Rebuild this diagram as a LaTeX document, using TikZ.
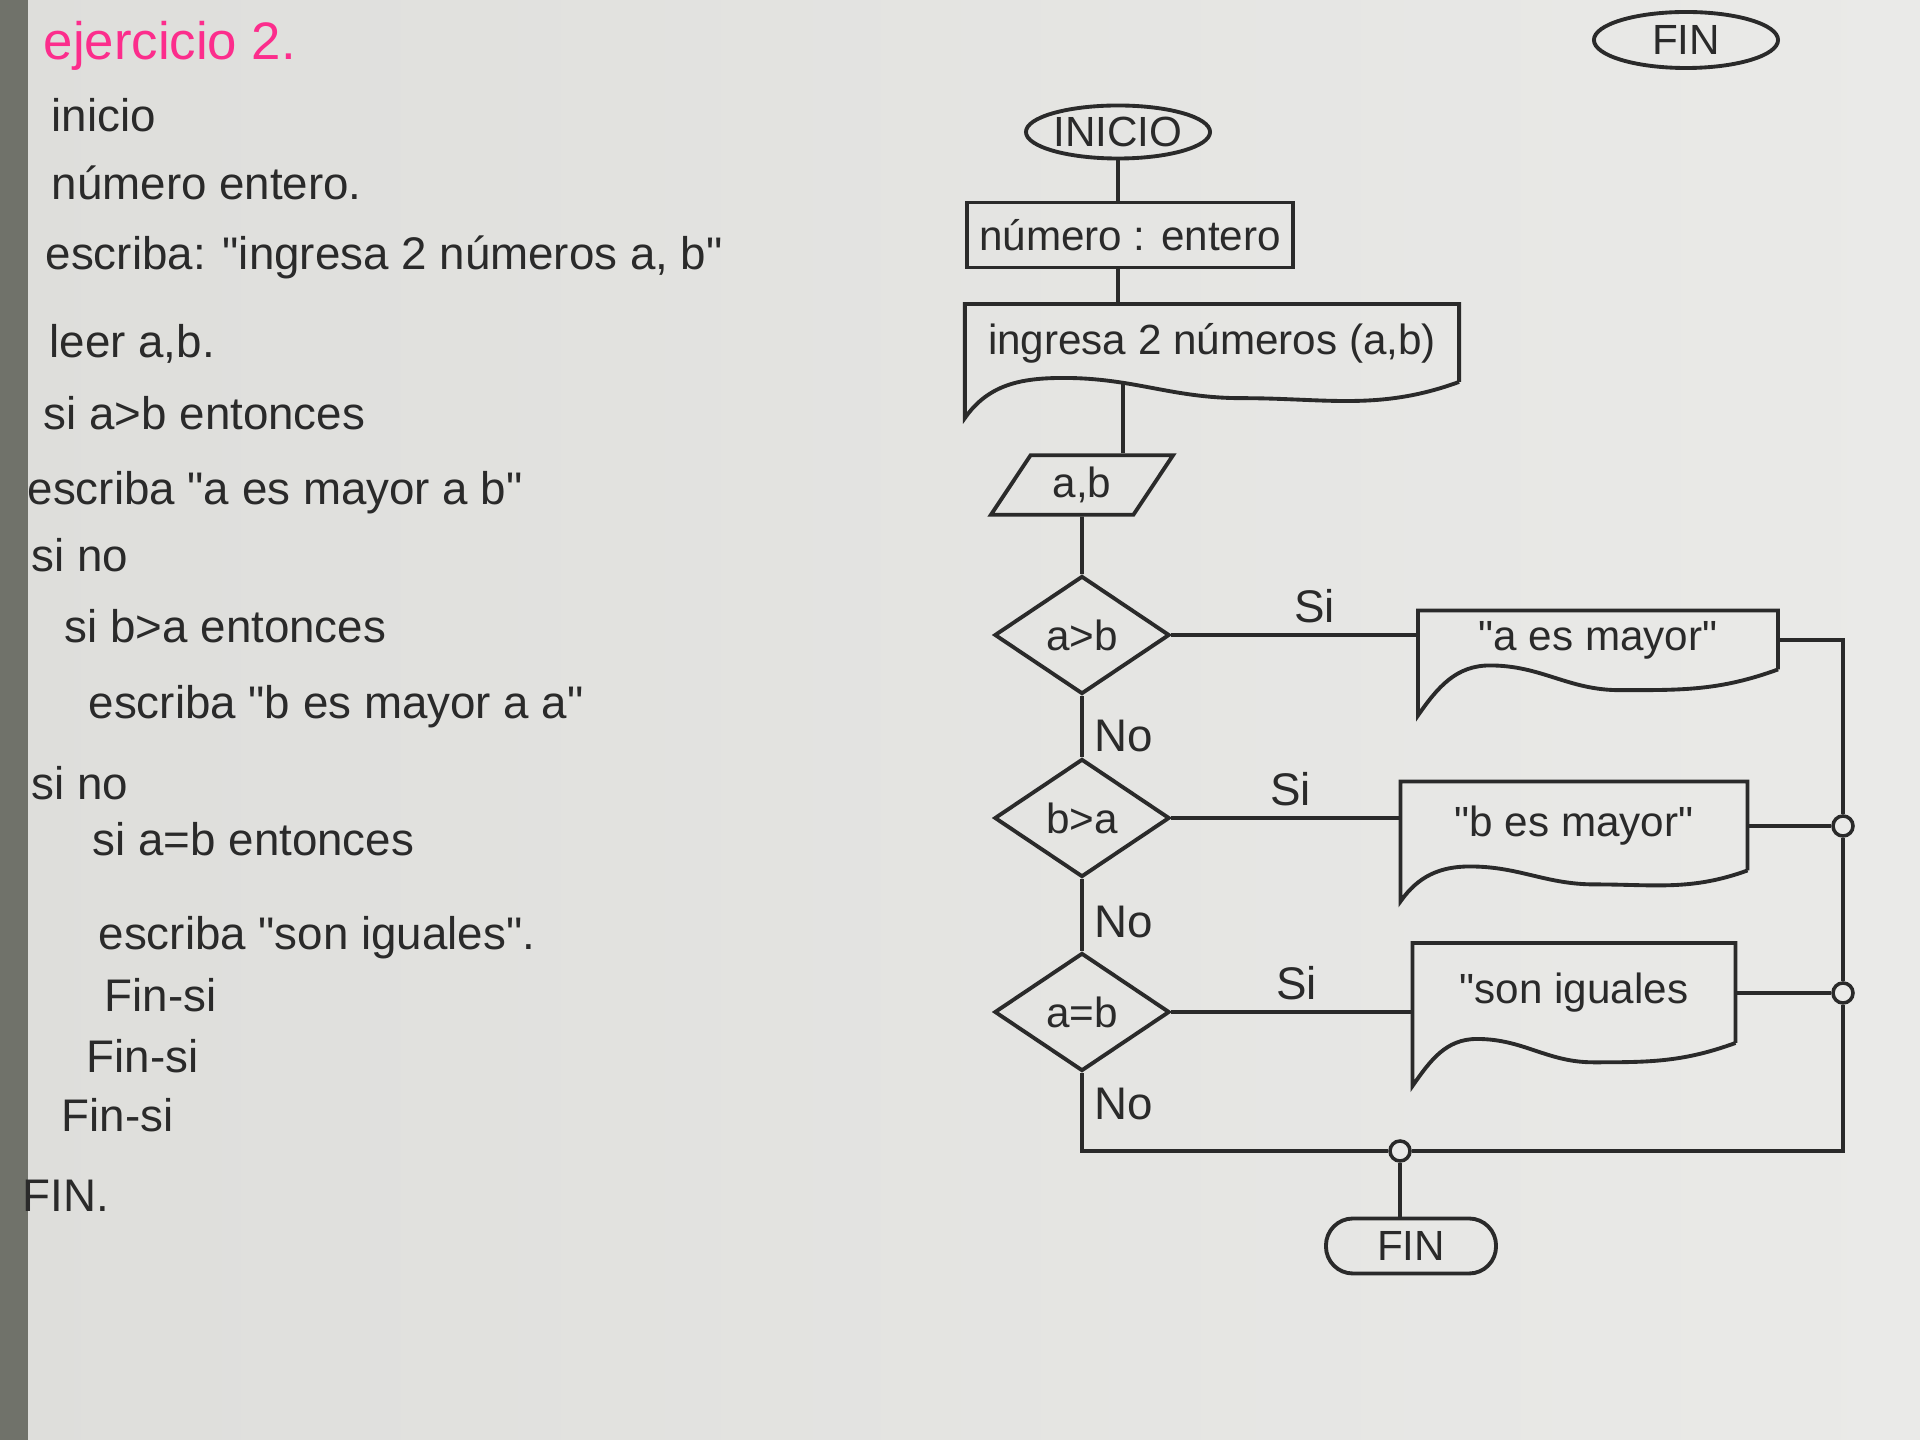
\documentclass[tikz,border=0pt]{standalone}
\usepackage{fontspec}
\setmainfont{Liberation Sans}[Ligatures=TeXOff]
\usetikzlibrary{shapes.geometric,calc}

\definecolor{paper}{RGB}{222,222,219}
\definecolor{paperlight}{RGB}{234,234,232}
\definecolor{strip}{RGB}{112,114,106}
\definecolor{pencil}{RGB}{42,42,42}
\definecolor{marker}{RGB}{252,45,140}

\tikzset{
  codeline/.style={anchor=base west, text=pencil, font=\fontsize{13}{15}\selectfont, inner sep=0pt},
  chart/.style={draw=pencil, line width=1.1pt, text=pencil, font=\fontsize{12}{14}\selectfont},
  terminal/.style={chart, ellipse, inner sep=0pt, minimum width=1.84cm, minimum height=0.53cm},
  stadium/.style={chart, rectangle, rounded corners=0.27cm, minimum width=1.7cm, minimum height=0.55cm},
  procbox/.style={chart, rectangle, minimum width=3.25cm, minimum height=0.65cm},
  docbox/.style={chart, draw=none, rectangle, inner sep=2pt},
  decision/.style={chart, diamond, inner sep=0pt, minimum width=1.75cm, minimum height=1.18cm},
  iobox/.style={chart, trapezium, trapezium left angle=62, trapezium right angle=118,
    trapezium stretches=true, minimum width=1.82cm, minimum height=0.59cm},
  junction/.style={circle, draw=pencil, line width=1pt, fill=paperlight, minimum size=0.2cm, inner sep=0pt},
  flow/.style={draw=pencil, line width=1.1pt},
  branch/.style={text=pencil, font=\fontsize{13}{15}\selectfont, inner sep=3pt}
}

\begin{document}
\begin{tikzpicture}[x=0.01cm, y=-0.01cm]
\shade[left color=paper, right color=paperlight] (0,0) rectangle (1920,1440);
\fill[strip] (0,0) rectangle (28,1440);
\useasboundingbox (0,0) rectangle (1920,1440);

% pseudocodigo
\node[codeline, text=marker, font=\fontsize{15}{17}\selectfont] (titulo) at (43,60) {ejercicio 2.};
\foreach \x/\y/\t [count=\i] in {51/132/inicio, 51/200/{número entero.},
    45/270/{escriba: "ingresa 2 números a, b"}, 49/358/{leer a,b.},
    43/430/{si a>b entonces}, 27/505/{escriba "a es mayor a b"}, 31/572/{si no},
    64/643/{si b>a entonces}, 88/719/{escriba "b es mayor a a"}, 31/800/{si no},
    92/856/{si a=b entonces}, 98/950/{escriba "son iguales".},
    104/1012/Fin-si, 86/1073/Fin-si, 61/1132/Fin-si, 22/1212/FIN.}
  \node[codeline] (linea\i) at (\x,\y) {\t};

% diagrama de flujo
\node[terminal, minimum height=0.56cm] (finsup) at (1686,40) {FIN};
\node[terminal] (inicio) at (1118,132) {INICIO};
\node[procbox] (numero) at (1130,235) {número : entero};
\node[docbox, minimum width=4.9cm, minimum height=0.74cm] (ingresa) at (1212,343) {ingresa 2 números (a,b)};
\node[iobox] (ab) at (1082,485) {a,b};
\node[decision] (d1) at (1082,635) {a>b};
\node[decision] (d2) at (1082,818) {b>a};
\node[decision] (d3) at (1082,1012) {a=b};
\node[docbox, minimum width=3.56cm, minimum height=0.55cm] (amay) at (1598,640) {"a es mayor"};
\node[docbox, minimum width=3.43cm, minimum height=0.85cm] (bmay) at (1574,826) {"b es mayor"};
\node[docbox, minimum width=3.19cm, minimum height=0.96cm] (igual) at (1574,993) {"son iguales};
\coordinate (rail) at (1843,637);
\node[junction] (j1) at (bmay.east -| rail) {};
\node[junction] (j2) at (igual.east -| rail) {};
\node[junction] (j3) at (1400,1151) {};
\node[stadium] (fin) at (1411,1246) {FIN};

% salidas con borde ondulado
\foreach \n/\d in {ingresa/0.36cm, amay/0.46cm, bmay/0.31cm, igual/0.43cm}
  \draw[flow] (\n.south east) -- (\n.north east) -- (\n.north west) -- ($(\n.south west)+(0cm,-\d)$)
    to[out=55,in=180] ($(\n.south west)!0.2!(\n.south east)+(0cm,0.04cm)$)
    to[out=0,in=180] ($(\n.south west)!0.56!(\n.south east)+(0cm,{-0.45*\d})$)
    to[out=0,in=200] (\n.south east);

\draw[flow] (inicio.south) -- (inicio.south |- numero.north);
\draw[flow] (inicio.south |- numero.south) -- (inicio.south |- ingresa.north);
\coordinate (onda) at ($(ingresa.south west)!0.32!(ingresa.south east)$);
\draw[flow] (onda) -- (onda |- ab.north);
\draw[flow] (ab.south) -- (d1.north);
\draw[flow] (d1.south) -- node[branch, right, pos=0.65] {No} (d2.north);
\draw[flow] (d2.south) -- node[branch, right, pos=0.6] {No} (d3.north);
\draw[flow] (d1.east) -- node[branch, above, pos=0.58] {Si} (d1.east -| amay.west);
\draw[flow] (d2.east) -- node[branch, above, pos=0.52] {Si} (d2.east -| bmay.west);
\draw[flow] (d3.east) -- node[branch, above, pos=0.52] {Si} (d3.east -| igual.west);
\draw[flow] (amay.east) -- (amay.east -| rail) -- (j1.north);
\draw[flow] (bmay.east) -- (j1.west);
\draw[flow] (j1.south) -- (j2.north);
\draw[flow] (igual.east) -- (j2.west);
\draw[flow] (j2.south) -- (rail |- j3) -- (j3.east);
\draw[flow] (d3.south) -- node[branch, right, pos=0.4] {No} (d3.south |- j3) -- (j3.west);
\draw[flow] (j3.south) -- (j3.south |- fin.north);
\end{tikzpicture}
\end{document}
